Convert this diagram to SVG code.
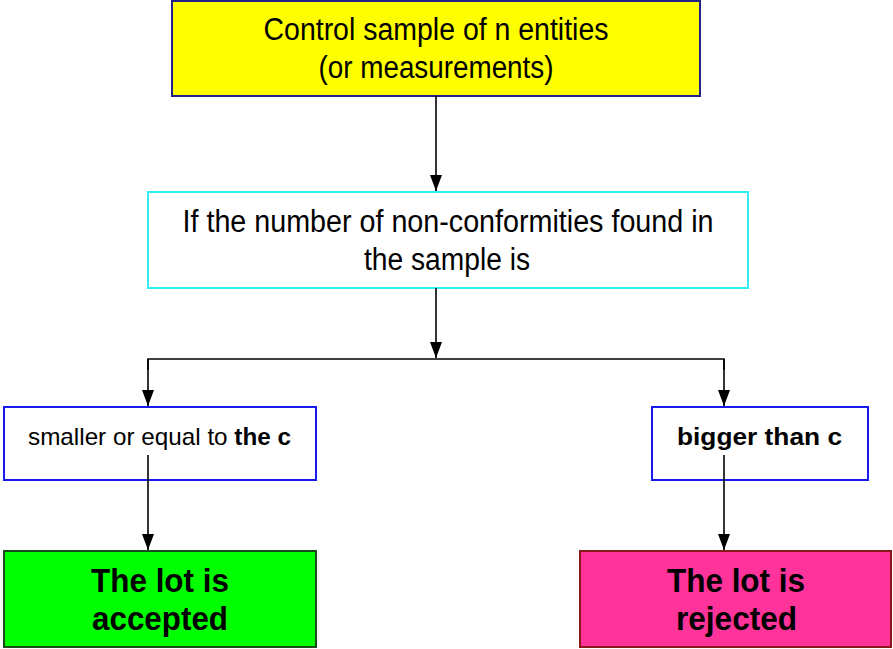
<svg xmlns="http://www.w3.org/2000/svg" width="893" height="649" viewBox="0 0 893 649">
<style>
text{font-family:"Liberation Sans",Arial,sans-serif;fill:#000;text-anchor:middle}
.t{font-size:31px}
.s{font-size:24px}
.b{font-weight:bold}
.big{font-size:33px;font-weight:bold}
.ln{stroke:#000;stroke-width:1.6;fill:none}
</style>
<defs>
<marker id="ah" viewBox="0 0 10 14" refX="14" refY="7" markerWidth="14" markerHeight="12" markerUnits="userSpaceOnUse" orient="auto">
<path d="M0,0 L14,7 L0,14 Z" fill="#000" transform="scale(1,1)"/>
</marker>
<marker id="a2" viewBox="0 0 16 12" refX="16" refY="6" markerWidth="16" markerHeight="12" markerUnits="userSpaceOnUse" orient="auto">
<path d="M0,0 L16,6 L0,12 Z" fill="#000"/>
</marker>
</defs>
<rect width="893" height="649" fill="#fff"/>
<g id="n1">
<rect x="172" y="1" width="528" height="95" fill="#ffff00" stroke="#22228a" stroke-width="2"/>
<text class="t" x="436" y="40" textLength="345" lengthAdjust="spacingAndGlyphs">Control sample of n entities</text>
<text class="t" x="436" y="78" textLength="235" lengthAdjust="spacingAndGlyphs">(or measurements)</text>
</g>
<g id="n2">
<rect x="148" y="192" width="600" height="96" fill="#fff" stroke="#33eeee" stroke-width="2"/>
<text class="t" x="448" y="232" textLength="531" lengthAdjust="spacingAndGlyphs">If the number of non-conformities found in</text>
<text class="t" x="447" y="270" textLength="166" lengthAdjust="spacingAndGlyphs">the sample is</text>
</g>
<g id="n3">
<rect x="4" y="407" width="312" height="73" fill="#fff" stroke="#1a1aee" stroke-width="2"/>
<text class="s" x="159.5" y="445" textLength="263" lengthAdjust="spacingAndGlyphs">smaller or equal to <tspan class="b">the c</tspan></text>
</g>
<g id="n4">
<rect x="652" y="407" width="216" height="73" fill="#fff" stroke="#1a1aee" stroke-width="2"/>
<text class="s b" x="759.5" y="445" textLength="165" lengthAdjust="spacingAndGlyphs">bigger than c</text>
</g>
<g id="n5">
<rect x="4" y="551" width="312" height="96" fill="#00ff00" stroke="#1a4a1a" stroke-width="2"/>
<text class="big" x="160" y="592" textLength="138" lengthAdjust="spacingAndGlyphs">The lot is</text>
<text class="big" x="160" y="630" textLength="136" lengthAdjust="spacingAndGlyphs">accepted</text>
</g>
<g id="n6">
<rect x="580" y="551" width="311" height="96" fill="#ff3399" stroke="#8a1a1a" stroke-width="2"/>
<text class="big" x="736" y="592" textLength="138" lengthAdjust="spacingAndGlyphs">The lot is</text>
<text class="big" x="736.5" y="630" textLength="121" lengthAdjust="spacingAndGlyphs">rejected</text>
</g>
<g id="connectors">
<line class="ln" x1="436" y1="96" x2="436" y2="191" marker-end="url(#a2)"/>
<line class="ln" x1="436" y1="288" x2="436" y2="358" marker-end="url(#a2)"/>
<polyline class="ln" points="148,370 148,359 724,359 724,370" stroke-width="2"/>
<line class="ln" x1="148" y1="359" x2="148" y2="406" marker-end="url(#a2)"/>
<line class="ln" x1="724" y1="359" x2="724" y2="406" marker-end="url(#a2)"/>
<line class="ln" x1="148" y1="455" x2="148" y2="550" marker-end="url(#a2)"/>
<line class="ln" x1="724" y1="455" x2="724" y2="550" marker-end="url(#a2)"/>
</g>
</svg>
